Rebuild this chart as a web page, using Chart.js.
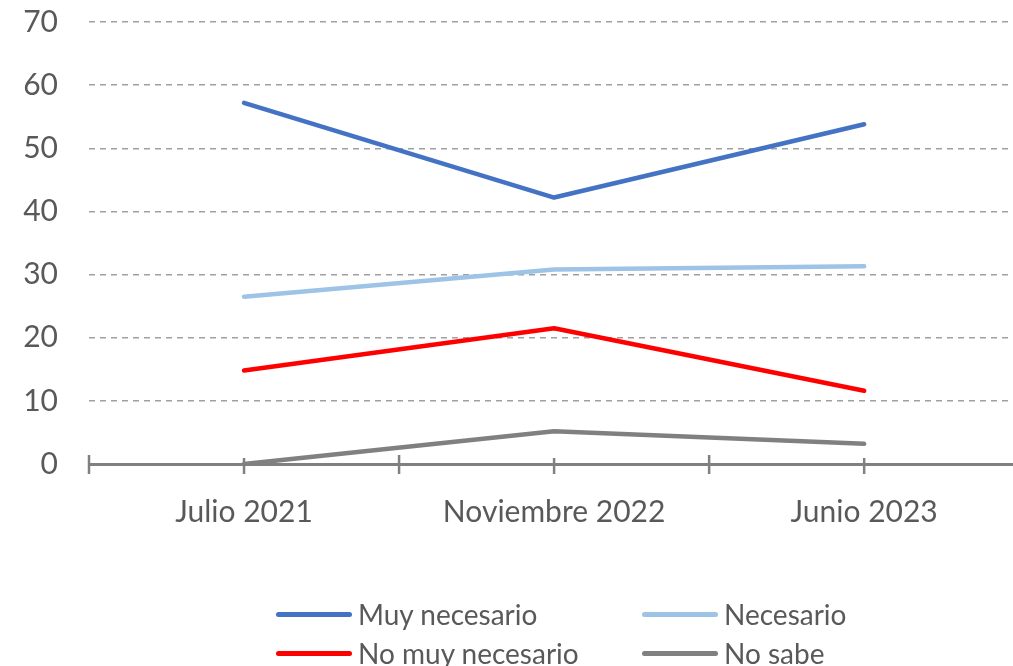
<!DOCTYPE html>
<html>
<head>
<meta charset="utf-8">
<script src="https://cdn.jsdelivr.net/npm/chart.js@4"></script>
<style>
  html,body{margin:0;padding:0;background:#fff;overflow:hidden;width:1013px;height:666px;}
  #wrap{position:absolute;left:0;top:0;width:1013px;height:666px;}
  #legend{position:absolute;left:0;top:0;width:1013px;height:666px;pointer-events:none;font-family:Lato,"Open Sans",sans-serif;color:#595959;font-size:28px;}
  .item{position:absolute;display:flex;align-items:center;height:36px;white-space:nowrap;}
  .sw{width:76px;height:5px;border-radius:3px;margin-right:6px;}
</style>
</head>
<body>
<div id="wrap"><canvas id="c" width="1013" height="666"></canvas></div>
<div id="legend"></div>
<script>
const categories = ["Julio 2021", "Noviembre 2022", "Junio 2023"];
const seriesNames = ["Muy necesario", "Necesario", "No muy necesario", "No sabe"];
const muyNecesario = [57.2, 42.2, 53.8];
const necesario = [26.5, 30.8, 31.3];
const noMuyNecesario = [14.8, 21.5, 11.6];
const noSabe = [0.0, 5.2, 3.2];
const colors = ["#4472C4", "#9DC3E6", "#FF0000", "#808080"];
const yTicks = [0, 10, 20, 30, 40, 50, 60, 70];

const allSeries = [muyNecesario, necesario, noMuyNecesario, noSabe];
const datasets = allSeries.map((vals, i) => ({
  label: seriesNames[i],
  data: vals.map((v, k) => ({x: k, y: v})),
  borderColor: colors[i],
  backgroundColor: colors[i],
  borderWidth: 4.5,
  pointRadius: 0,
  tension: 0,
  borderCapStyle: 'round',
  borderJoinStyle: 'round',
  clip: false
}));

const crossTicks = {
  id: 'crossTicks',
  afterDatasetsDraw(chart) {
    const xs = chart.scales.x, ctx = chart.ctx, b = chart.chartArea.bottom;
    ctx.save();
    ctx.strokeStyle = '#808080';
    ctx.lineWidth = 2.5;
    xs.ticks.forEach(t => {
      const x = xs.getPixelForValue(t.value);
      const half = Number.isInteger(t.value) ? 0 : 1;
      ctx.beginPath();
      ctx.moveTo(x, b - 6 - half*3);
      ctx.lineTo(x, b + 10);
      ctx.stroke();
    });
    ctx.restore();
  }
};

// x range: category slots of one unit, the right edge of the picture cuts the last slot slightly
const xMin = -0.5, xMax = 2.48;

new Chart(document.getElementById('c'), {
  type: 'line',
  data: { datasets },
  options: {
    responsive: false,
    animation: false,
    layout: { padding: { left: 0, right: 0, top: 22, bottom: 0 } },
    plugins: { legend: { display: false }, tooltip: { enabled: false } },
    scales: {
      x: {
        type: 'linear',
        min: xMin, max: xMax,
        afterFit: s => { s.height = 202; },
        afterBuildTicks: s => { s.ticks = [-0.5,0,0.5,1,1.5,2].map(v => ({value: v})); },
        ticks: {
          autoSkip: false, maxRotation: 0, padding: 2,
          color: '#595959',
          font: { family: 'Lato', size: 30 },
          callback: v => Number.isInteger(v) ? categories[v] : ''
        },
        grid: { display: true, drawOnChartArea: false, drawTicks: true, tickLength: 28, tickColor: 'rgba(0,0,0,0)' },
        border: { display: true, color: '#808080', width: 3 }
      },
      y: {
        min: 0, max: 70,
        afterFit: s => { s.width = 89; },
        afterBuildTicks: s => { s.ticks = yTicks.map(v => ({value: v})); },
        ticks: { padding: 2, color: '#595959', font: { family: 'Lato', size: 30 } },
        grid: {
          drawTicks: true, tickLength: 29, tickColor: 'rgba(0,0,0,0)',
          color: c => c.tick && c.tick.value === 0 ? 'rgba(0,0,0,0)' : '#a0a0a0',
          lineWidth: 1.5
        },
        border: { display: false, dash: [6, 5] }
      }
    }
  },
  plugins: [crossTicks]
});

// HTML legend
const legendPos = [[276, 596], [642, 596], [276, 635], [642, 635]];
const lg = document.getElementById('legend');
seriesNames.forEach((n, i) => {
  const d = document.createElement('div');
  d.className = 'item';
  d.style.left = legendPos[i][0] + 'px';
  d.style.top = legendPos[i][1] + 'px';
  d.innerHTML = '<span class="sw" style="background:' + colors[i] + '"></span><span>' + n + '</span>';
  lg.appendChild(d);
});
</script>
</body>
</html>
